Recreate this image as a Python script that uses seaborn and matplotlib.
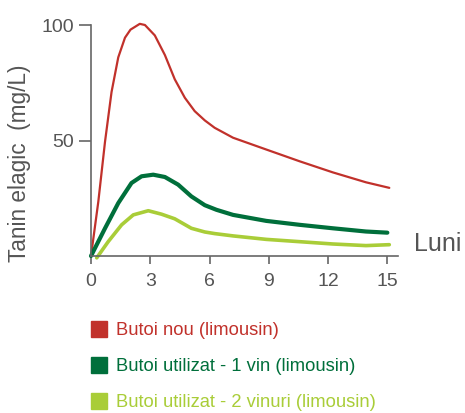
import pandas as pd
import numpy as np
import matplotlib.pyplot as plt
import seaborn as sns
from matplotlib.lines import Line2D

sns.set_style("white")
plt.rcParams['font.family'] = ['Liberation Sans', 'DejaVu Sans']

# luni / tanin elagic (mg/L)
nou_x = [0, 0.37, 0.71, 1.04, 1.38, 1.72, 2.0, 2.47, 2.73, 3.23, 3.74, 4.24, 4.75, 5.25, 5.76, 6.26,
         7.19, 8.87, 10.56, 12.24, 13.92, 15.1]
nou_y = [0, 23.5, 49.5, 71, 86, 94.5, 98, 100.5, 100, 95.5, 87, 76.5, 68.5, 62.7, 58.7, 55.5,
         51.2, 46.1, 41, 36.2, 31.9, 29.5]

vin1_x = [0, 0.71, 1.38, 2.05, 2.56, 3.15, 3.74, 4.41, 5.08, 5.76, 6.35, 7.19, 8.87, 10.56, 12.24, 13.92, 15.0]
vin1_y = [0, 12, 22.9, 31.6, 34.5, 35.2, 34.2, 30.9, 25.8, 22, 20, 17.8, 15.2, 13.5, 12, 10.6, 10.1]

vin2_x = [0.29, 0.87, 1.55, 2.14, 2.9, 3.57, 4.24, 5.08, 5.76, 6.26, 7.19, 8.87, 10.56, 12.24, 13.92, 15.1]
vin2_y = [-0.8, 6.2, 13.5, 17.8, 19.6, 18.1, 16.1, 12, 10.4, 9.7, 8.7, 7.2, 6.2, 5.2, 4.5, 4.9]

labels = ["Butoi nou (limousin)", "Butoi utilizat - 1 vin (limousin)", "Butoi utilizat - 2 vinuri (limousin)"]
colors = ["#c1312b", "#006f3b", "#a9cd38"]
widths = [1.6, 3.0, 2.6]
xticks = [0, 3, 6, 9, 12, 15]
yticks = [50, 100]

df = pd.concat([
    pd.DataFrame({"luni": nou_x, "tanin": nou_y, "serie": labels[0]}),
    pd.DataFrame({"luni": vin1_x, "tanin": vin1_y, "serie": labels[1]}),
    pd.DataFrame({"luni": vin2_x, "tanin": vin2_y, "serie": labels[2]}),
])

fig = plt.figure(figsize=(4.65, 4.13), dpi=100)
ax = fig.add_axes([91/465, 1-256/413, 307/465, 231/413])

for lab, col, lw in zip(labels, colors, widths):
    sns.lineplot(data=df[df.serie == lab], x="luni", y="tanin", color=col,
                 linewidth=lw, ax=ax, clip_on=False, sort=False)

ax.set_xlim(0, 15.54)
ax.set_ylim(0, 100)
ax.set_xticks(xticks)
ax.set_yticks(yticks)
for s in ["top", "right"]:
    ax.spines[s].set_visible(False)
for s in ["left", "bottom"]:
    ax.spines[s].set_color("#666666")
    ax.spines[s].set_linewidth(1.2)
ax.tick_params(axis="x", length=6, width=1.2, color="#666666", labelsize=14,
               labelcolor="#555555", pad=6, bottom=True)
ax.tick_params(axis="y", length=9, width=1.2, color="#666666", labelsize=14,
               labelcolor="#555555", pad=3, left=True)
ax.set_xlabel("")
ax.set_ylabel("Tanin elagic  (mg/L)", fontsize=16.3, color="#555555")
ax.yaxis.set_label_coords(-0.196, 0.40)
fig.text(414/465, 1-244/413, "Luni", fontsize=18, color="#555555", ha="left", va="center")

handles = [Line2D([], [], linestyle="none", marker="s", markersize=11.5, color=c) for c in colors]
leg = fig.legend(handles, labels, loc="upper left", bbox_to_anchor=(82/465, 1-313/413),
                 frameon=False, fontsize=13.2, labelcolor=colors, handlelength=0.8,
                 handletextpad=0.55, labelspacing=1.04, borderpad=0)

fig.savefig("out.png", dpi=100)
